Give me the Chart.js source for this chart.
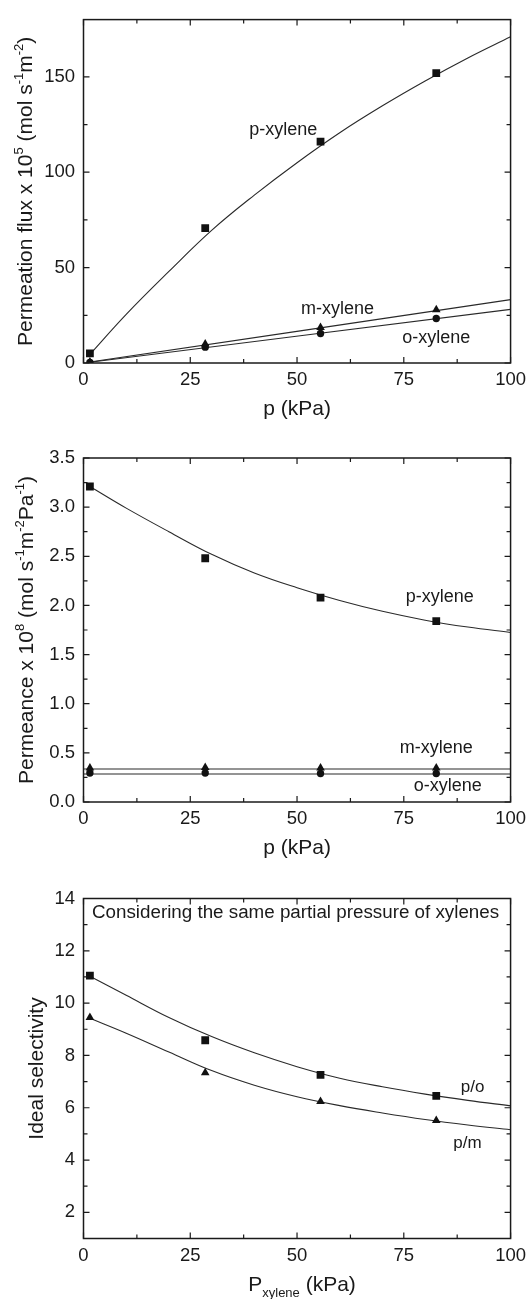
<!DOCTYPE html>
<html>
<head>
<meta charset="utf-8">
<script src="https://cdn.jsdelivr.net/npm/chart.js@4.4.0/dist/chart.umd.min.js"></script>
<style>
  body { margin: 0; background: #fff; width: 532px; height: 1299px; position: relative; overflow: hidden; }
  canvas { position: absolute; left: 0; }
</style>
</head>
<body>
<canvas id="c1" width="532" height="425" style="top:0"></canvas>
<canvas id="c2" width="532" height="435" style="top:425px"></canvas>
<canvas id="c3" width="532" height="439" style="top:860px"></canvas>
<script>
// measured pressures (kPa)
const pressure = [1.5, 28.5, 55.5, 82.6];
// points along the fitted curves
const fitPressure = [1.5, 10, 20, 30, 40, 50, 60, 70, 80, 90, 100];
const linePressure = [1.5, 100];
const flatPressure = [0, 100];

// top: permeation flux x 10^5
const fluxP = [5, 70.7, 116, 152];
const fluxM = [0.5, 10, 18.6, 27.9];
const fluxO = [0.3, 8.3, 15.5, 23.3];
const fluxFitP = [4.5, 25.5, 48, 69.5, 88, 105, 120.7, 134.8, 147.8, 159.9, 171];
const fluxFitM = [0.5, 33.2];
const fluxFitO = [0.4, 28.1];

// middle: permeance x 10^8
const permP = [3.21, 2.48, 2.08, 1.84];
const permM = [0.345, 0.35, 0.345, 0.345];
const permO = [0.295, 0.295, 0.29, 0.29];
const permFitP = [3.21, 2.99, 2.75, 2.52, 2.33, 2.18, 2.05, 1.94, 1.85, 1.78, 1.725];
const permFitM = [0.336, 0.336];
const permFitO = [0.285, 0.285];

// bottom: ideal selectivity
const selPO = [11.05, 8.58, 7.26, 6.45];
const selPM = [9.45, 7.34, 6.24, 5.51];
const selFitPO = [11.03, 10.3, 9.45, 8.72, 8.1, 7.57, 7.13, 6.8, 6.52, 6.28, 6.07];
const selFitPM = [9.42, 8.85, 8.13, 7.42, 6.86, 6.42, 6.08, 5.8, 5.55, 5.34, 5.16];

const xTicks = ['0', '25', '50', '75', '100'];

const FONT = '"Liberation Sans", Arial, Helvetica, sans-serif';
const INK = '#1a1a1a';

function pts(xs, ys) {
  return xs.map((x, i) => ({ x: x, y: ys[i] }));
}
function isMult(v, step) {
  const r = v / step;
  return Math.abs(r - Math.round(r)) < 1e-6;
}

function markers(xs, ys, style, r) {
  return { data: pts(xs, ys), showLine: false, pointStyle: style, pointRadius: r,
    backgroundColor: '#111', borderColor: '#111', borderWidth: 0, order: 1 };
}
function curve(xs, ys) {
  return { data: pts(xs, ys), showLine: true, pointRadius: 0, borderColor: '#2a2a2a',
    borderWidth: 1.1, tension: 0.4, order: 2 };
}

// frame + inward ticks on all four sides
const frameTicks = {
  id: 'frameTicks',
  afterDatasetsDraw(chart, args, o) {
    const { ctx, chartArea: a, scales } = chart;
    ctx.save();
    ctx.strokeStyle = INK;
    ctx.lineWidth = 1.2;
    ctx.beginPath();
    scales.x.ticks.forEach(t => {
      if (!isMult(t.value, o.xMinor)) return;
      const len = isMult(t.value, o.xMajor) ? 6 : 4;
      const px = scales.x.getPixelForValue(t.value);
      ctx.moveTo(px, a.bottom); ctx.lineTo(px, a.bottom - len);
      ctx.moveTo(px, a.top); ctx.lineTo(px, a.top + len);
    });
    scales.y.ticks.forEach(t => {
      if (!isMult(t.value, o.yMinor)) return;
      const len = isMult(t.value, o.yMajor) ? 6 : 4;
      const py = scales.y.getPixelForValue(t.value);
      ctx.moveTo(a.left, py); ctx.lineTo(a.left + len, py);
      ctx.moveTo(a.right, py); ctx.lineTo(a.right - len, py);
    });
    ctx.stroke();
    ctx.lineWidth = 1.5;
    ctx.strokeRect(a.left, a.top, a.right - a.left, a.bottom - a.top);
    ctx.restore();
  }
};

// draws a run of text pieces; sup / sub pieces are smaller and shifted
function drawRich(ctx, parts, size, x, y) {
  const widths = parts.map(p => {
    ctx.font = (p.sup || p.sub ? size * 0.62 : size) + 'px ' + FONT;
    return ctx.measureText(p.t).width;
  });
  const total = widths.reduce((s, w) => s + w, 0);
  let cx = x - total / 2;
  parts.forEach((p, i) => {
    ctx.font = (p.sup || p.sub ? size * 0.62 : size) + 'px ' + FONT;
    const dy = p.sup ? -size * 0.42 : (p.sub ? size * 0.3 : 0);
    ctx.fillText(p.t, cx, y + dy);
    cx += widths[i];
  });
}

const texts = {
  id: 'texts',
  afterDraw(chart, args, o) {
    const { ctx, chartArea: a, scales } = chart;
    ctx.save();
    ctx.fillStyle = INK;
    ctx.textBaseline = 'alphabetic';
    ctx.textAlign = 'left';
    // y title, rotated
    ctx.save();
    ctx.translate(o.yTitleX, (a.top + a.bottom) / 2 + o.yTitleShift);
    ctx.rotate(-Math.PI / 2);
    drawRich(ctx, o.yTitle, o.titleSize, 0, 0);
    ctx.restore();
    // x title
    drawRich(ctx, o.xTitle, o.titleSize, (a.left + a.right) / 2 + o.xTitleShift, a.bottom + o.xTitleY);
    // labels inside the plot
    ctx.textBaseline = 'middle';
    ctx.textAlign = 'center';
    o.notes.forEach(n => {
      ctx.font = n.size + 'px ' + FONT;
      ctx.fillText(n.t, scales.x.getPixelForValue(n.x), scales.y.getPixelForValue(n.y));
    });
    ctx.restore();
  }
};

function makeChart(id, cfg) {
  const H = document.getElementById(id).height;
  return new Chart(document.getElementById(id), {
    type: 'scatter',
    data: { datasets: cfg.datasets },
    options: {
      responsive: false,
      animation: false,
      events: [],
      layout: { padding: { top: cfg.top, right: 532 - 511.5, left: 0, bottom: 0 } },
      plugins: {
        legend: { display: false },
        tooltip: { enabled: false },
        frameTicks: cfg.ticks,
        texts: cfg.texts
      },
      scales: {
        x: {
          type: 'linear', min: 0, max: 100,
          grid: { display: false, drawTicks: false },
          border: { display: false },
          afterFit: s => { s.height = H - cfg.bottom; },
          ticks: {
            stepSize: 12.5, autoSkip: false, maxRotation: 0, padding: 6,
            color: INK, font: { family: FONT, size: 18.5 },
            callback: v => isMult(v, 25) ? xTicks[Math.round(v / 25)] : ''
          }
        },
        y: {
          type: 'linear', min: cfg.yMin, max: cfg.yMax,
          grid: { display: false, drawTicks: false },
          border: { display: false },
          afterFit: s => { s.width = 83.5; },
          ticks: {
            stepSize: cfg.ticks.yMinor, autoSkip: false, padding: 8.5,
            color: INK, font: { family: FONT, size: 18.5 },
            callback: cfg.yLabel
          }
        }
      }
    },
    plugins: [frameTicks, texts]
  });
}

makeChart('c1', {
  top: 14.5, bottom: 363, yMin: 0, yMax: 180,
  yLabel: v => isMult(v, 50) ? String(Math.round(v)) : '',
  ticks: { xMinor: 12.5, xMajor: 25, yMinor: 25, yMajor: 50 },
  datasets: [
    curve(fitPressure, fluxFitP),
    curve(linePressure, fluxFitM),
    curve(linePressure, fluxFitO),
    markers(pressure, fluxP, 'rect', 5.5),
    markers(pressure, fluxM, 'triangle', 5),
    markers(pressure, fluxO, 'circle', 3.7)
  ],
  texts: {
    titleSize: 21, yTitleX: 32, yTitleShift: 0, xTitleY: 52, xTitleShift: 0,
    yTitle: [{ t: 'Permeation flux x 10' }, { t: '5', sup: true }, { t: ' (mol s' }, { t: '-1', sup: true },
             { t: 'm' }, { t: '-2', sup: true }, { t: ')' }],
    xTitle: [{ t: 'p (kPa)' }],
    notes: [
      { t: 'p-xylene', x: 46.8, y: 121.9, size: 18 },
      { t: 'm-xylene', x: 59.5, y: 28.4, size: 18 },
      { t: 'o-xylene', x: 82.6, y: 12.9, size: 18 }
    ]
  }
});

makeChart('c2', {
  top: 33, bottom: 377, yMin: 0, yMax: 3.5,
  yLabel: v => isMult(v, 0.5) ? v.toFixed(1) : '',
  ticks: { xMinor: 12.5, xMajor: 25, yMinor: 0.25, yMajor: 0.5 },
  datasets: [
    curve(fitPressure, permFitP),
    curve(flatPressure, permFitM),
    curve(flatPressure, permFitO),
    markers(pressure, permP, 'rect', 5.5),
    markers(pressure, permM, 'triangle', 5),
    markers(pressure, permO, 'circle', 3.7)
  ],
  texts: {
    titleSize: 21, yTitleX: 33, yTitleShift: 0, xTitleY: 52, xTitleShift: 0,
    yTitle: [{ t: 'Permeance x 10' }, { t: '8', sup: true }, { t: ' (mol s' }, { t: '-1', sup: true },
             { t: 'm' }, { t: '-2', sup: true }, { t: 'Pa' }, { t: '-1', sup: true }, { t: ')' }],
    xTitle: [{ t: 'p (kPa)' }],
    notes: [
      { t: 'p-xylene', x: 83.4, y: 2.09, size: 18 },
      { t: 'm-xylene', x: 82.6, y: 0.547, size: 18 },
      { t: 'o-xylene', x: 85.3, y: 0.163, size: 18 }
    ]
  }
});

makeChart('c3', {
  top: 38.5, bottom: 378.5, yMin: 1, yMax: 14,
  yLabel: v => isMult(v, 2) ? String(Math.round(v)) : '',
  ticks: { xMinor: 12.5, xMajor: 25, yMinor: 1, yMajor: 2 },
  datasets: [
    curve(fitPressure, selFitPO),
    curve(fitPressure, selFitPM),
    markers(pressure, selPO, 'rect', 5.5),
    markers(pressure, selPM, 'triangle', 5)
  ],
  texts: {
    titleSize: 21, yTitleX: 43, yTitleShift: 0, xTitleY: 52, xTitleShift: 5,
    yTitle: [{ t: 'Ideal selectivity' }],
    xTitle: [{ t: 'P' }, { t: 'xylene', sub: true }, { t: ' (kPa)' }],
    notes: [
      { t: 'Considering the same partial pressure of xylenes', x: 49.65, y: 13.46, size: 18.8 },
      { t: 'p/o', x: 91.1, y: 6.78, size: 17 },
      { t: 'p/m', x: 89.9, y: 4.64, size: 17 }
    ]
  }
});
</script>
</body>
</html>
